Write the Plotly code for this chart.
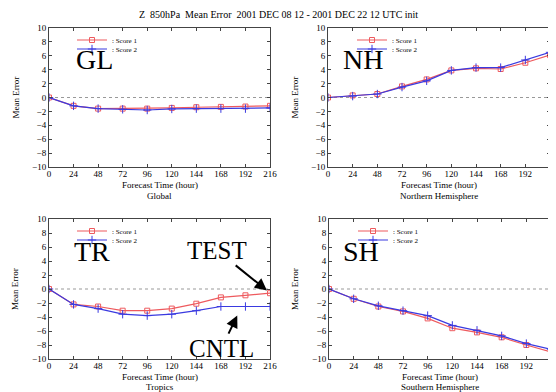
import plotly.graph_objects as go

hours = [0, 24, 48, 72, 96, 120, 144, 168, 192, 216]
y_ticks = [-10, -8, -6, -4, -2, 0, 2, 4, 6, 8, 10]

gl_score1 = [0, -1.2, -1.6, -1.6, -1.6, -1.5, -1.4, -1.35, -1.3, -1.2]
gl_score2 = [0, -1.2, -1.6, -1.7, -1.8, -1.65, -1.6, -1.6, -1.6, -1.5]
nh_score1 = [0, 0.3, 0.5, 1.6, 2.6, 3.9, 4.2, 4.1, 5.0, 6.1]
nh_score2 = [0, 0.2, 0.5, 1.5, 2.4, 3.9, 4.3, 4.3, 5.4, 6.5]
tr_score1 = [0, -2.2, -2.5, -3.1, -3.1, -2.8, -2.1, -1.2, -0.9, -0.6]
tr_score2 = [0, -2.2, -2.8, -3.6, -3.8, -3.6, -3.1, -2.5, -2.5, -2.5]
sh_score1 = [0, -1.4, -2.5, -3.2, -4.2, -5.6, -6.2, -6.9, -8.0, -9.0]
sh_score2 = [0, -1.4, -2.4, -3.1, -3.8, -5.2, -5.9, -6.7, -7.8, -8.6]

panels = [
    ("GL", "Global", gl_score1, gl_score2),
    ("NH", "Northern Hemisphere", nh_score1, nh_score2),
    ("TR", "Tropics", tr_score1, tr_score2),
    ("SH", "Southern Hemisphere", sh_score1, sh_score2),
]

# page body has an 8px margin: the figure is sized to fill the rest of the window
OFF = 8
W, H = 556 - OFF, 392 - OFF
def px(x):
    return (x - OFF) / W
def py(y):
    return 1 - (y - OFF) / H

x_domains = [[px(49), px(270)], [px(328), px(550)], [px(49), px(270)], [px(329), px(551)]]
y_domains = [[py(167), py(28)], [py(167), py(28)], [py(359), py(219)], [py(359), py(219)]]
label_pos = [(94, 60), (363, 60), (92, 251), (361, 251)]
# (left x, centre y of item 1, centre y of item 2) for each panel's legend sample
legend_pos = [(72, 40, 49), (352, 40, 49), (72, 231, 240), (353, 231, 240)]
xtitle_y = [(185, 196), (185, 196), (377, 387), (377, 387)]
ytitle_x = [15, 294, 15, 295]

SERIF = "Liberation Serif, Times New Roman, serif"
RED = "#ee5a5e"
BLUE = "#3a3ae0"

fig = go.Figure()
layout = dict(
    width=W, height=H,
    margin=dict(l=0, r=0, t=0, b=0, autoexpand=False),
    paper_bgcolor="white", plot_bgcolor="white",
    font=dict(family=SERIF, size=9, color="black"),
    showlegend=True,
)

annotations = []
shapes = []
for i, (lab, region, s1, s2) in enumerate(panels):
    n = "" if i == 0 else str(i + 1)
    xa, ya = "x" + n, "y" + n
    lg1 = "legend" + ("" if i == 0 else str(2 * i + 1))
    lg2 = "legend" + str(2 * i + 2)
    fig.add_trace(go.Scatter(x=hours, y=s1, mode="lines+markers", name=": Score 1",
                             line=dict(color=RED, width=1.2),
                             marker=dict(symbol="square-open", size=5, color=RED, line=dict(width=1)),
                             xaxis=xa, yaxis=ya, legend=lg1))
    fig.add_trace(go.Scatter(x=hours, y=s2, mode="lines+markers", name=": Score 2",
                             line=dict(color=BLUE, width=1.2),
                             marker=dict(symbol="cross-thin", size=6, color=BLUE, line=dict(width=1, color=BLUE)),
                             xaxis=xa, yaxis=ya, legend=lg2))
    common = dict(showline=True, linecolor="#444", linewidth=1, mirror="allticks",
                  ticks="inside", ticklen=3, tickcolor="#444", showgrid=False, zeroline=False,
                  automargin=False, tickfont=dict(family=SERIF, size=9))
    layout["xaxis" + n] = dict(domain=x_domains[i], range=[0, 216], tickvals=hours,
                               anchor=ya, ticklabelstandoff=-2, **common)
    layout["yaxis" + n] = dict(domain=y_domains[i], range=[-10, 10], tickvals=y_ticks,
                               anchor=xa, **common)
    lx, ly1, ly2 = legend_pos[i]
    for lg, ly in ((lg1, ly1), (lg2, ly2)):
        layout[lg] = dict(x=px(lx), y=py(ly), xanchor="left", yanchor="middle",
                          bgcolor="rgba(0,0,0,0)", font=dict(family=SERIF, size=7),
                          itemwidth=30, tracegroupgap=0)
    shapes.append(dict(type="line", xref=xa, yref=ya, x0=0, x1=216, y0=0, y1=0,
                       line=dict(color="#999", width=1, dash="dot"), layer="below"))
    annotations.append(dict(text=lab, xref="paper", yref="paper", xanchor="center", yanchor="middle",
                            x=px(label_pos[i][0]), y=py(label_pos[i][1]),
                            showarrow=False, font=dict(family=SERIF, size=28, color="black")))
    xc = (x_domains[i][0] + x_domains[i][1]) / 2
    yc = (y_domains[i][0] + y_domains[i][1]) / 2
    annotations.append(dict(text="Forecast Time (hour)", xref="paper", yref="paper",
                            x=xc, y=py(xtitle_y[i][0]), xanchor="center", yanchor="middle",
                            showarrow=False, font=dict(family=SERIF, size=9)))
    annotations.append(dict(text=region, xref="paper", yref="paper",
                            x=xc, y=py(xtitle_y[i][1]), xanchor="center", yanchor="middle",
                            showarrow=False, font=dict(family=SERIF, size=9)))
    annotations.append(dict(text="Mean Error", xref="paper", yref="paper", textangle=-90,
                            x=px(ytitle_x[i]), y=yc, xanchor="center", yanchor="middle",
                            showarrow=False, font=dict(family=SERIF, size=9)))

annotations.append(dict(text="Z  850hPa  Mean Error  2001 DEC 08 12 - 2001 DEC 22 12 UTC init",
                        xref="paper", yref="paper", x=px(278), y=py(15), showarrow=False,
                        xanchor="center", yanchor="middle",
                        font=dict(family=SERIF, size=10)))
# TEST arrow: points to Score 1 end in TR panel
annotations.append(dict(text="TEST", xref="x3", yref="y3", x=213, y=tr_score1[-1] + 0.4,
                        ax=-50, ay=-40,
                        showarrow=True, arrowhead=2, arrowsize=1.2, arrowwidth=2, arrowcolor="black",
                        font=dict(family=SERIF, size=25), standoff=0, startstandoff=0))
annotations.append(dict(text="CNTL", xref="x3", yref="y3", x=184, y=tr_score2[-1] - 1.3,
                        ax=-16, ay=33,
                        showarrow=True, arrowhead=2, arrowsize=1.2, arrowwidth=2, arrowcolor="black",
                        font=dict(family=SERIF, size=25), standoff=0, startstandoff=0))

layout["annotations"] = annotations
layout["shapes"] = shapes
fig.update_layout(**layout)
fig.write_html("out.html")
